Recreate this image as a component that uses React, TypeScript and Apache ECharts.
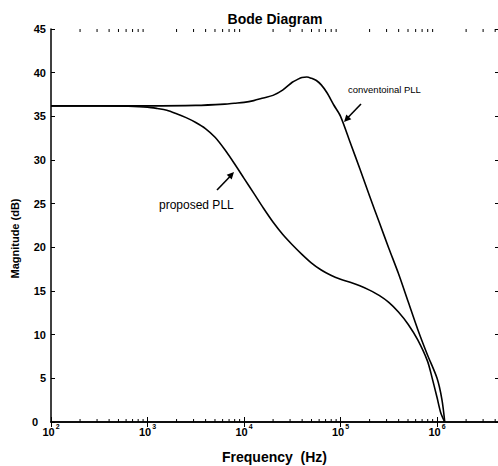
import React, { useEffect, useRef } from "react";
import * as echarts from "echarts";

// ---- data ----
const proposedFreq = [100, 316, 631, 1000, 1260, 1585, 2000, 2510, 3160, 3980, 5010, 6310, 7940, 10000, 12600, 15850, 19950, 25100, 31600, 39800, 50100, 63100, 79400, 100000, 125900, 158500, 199500, 251200, 316200, 398100, 501200, 631000, 794300, 891300, 1000000, 1096000, 1202000];
const proposedMag = [36.2, 36.2, 36.15, 36.05, 35.9, 35.7, 35.3, 34.85, 34.3, 33.6, 32.6, 31.2, 29.6, 27.9, 26.2, 24.5, 22.9, 21.5, 20.3, 19.2, 18.2, 17.4, 16.8, 16.35, 16.0, 15.6, 15.1, 14.5, 13.7, 12.6, 11.2, 9.4, 7.0, 5.0, 2.8, 1.0, 0];

const conventionalFreq = [100, 1000, 3160, 6310, 7940, 10000, 12600, 15850, 19950, 25100, 31600, 35500, 39800, 44700, 50100, 56200, 63100, 72400, 85100, 100000, 125900, 158500, 199500, 251200, 316200, 398100, 501200, 631000, 794300, 1000000, 1122000, 1202000];
const conventionalMag = [36.2, 36.2, 36.25, 36.4, 36.5, 36.6, 36.8, 37.1, 37.4, 38.0, 38.9, 39.2, 39.45, 39.5, 39.35, 39.1, 38.6, 37.7, 36.3, 35.0, 32.0, 29.0, 25.9, 22.9, 19.9, 17.0, 13.8, 10.6, 7.7, 5.0, 2.6, 0];

const xMin = 100;
const xMax = 4280000;
const yMin = 0;
const yMax = 45;
const yStep = 5;
const decadeExponents = [2, 3, 4, 5, 6];
const minorMultipliers = [2, 3, 4, 5, 6, 7, 8, 9];

const FONT = "'Liberation Sans', Arial, Helvetica, sans-serif";

export default function App() {
  const ref = useRef<HTMLDivElement>(null);

  useEffect(() => {
    if (!ref.current) return;
    const chart = echarts.init(ref.current, undefined, { renderer: "svg" });

    const minorTicks: number[][] = [];
    decadeExponents.forEach((e) => {
      minorMultipliers.forEach((m) => {
        const f = m * Math.pow(10, e);
        if (f < xMax) minorTicks.push([f]);
      });
    });

    const toPairs = (xs: number[], ys: number[]) => xs.map((x, i) => [x, ys[i]]);

    const xLabel = {
      formatter: (v: number) => {
        const e = Math.round(Math.log10(v));
        return `{b|10}{s|${e}}`;
      },
      showMaxLabel: false,
      margin: 2.5,
      color: "#000",
      rich: {
        b: { fontSize: 11, fontWeight: "bold", fontFamily: FONT, color: "#000", lineHeight: 13, verticalAlign: "bottom" },
        s: { fontSize: 7, fontWeight: "bold", fontFamily: FONT, color: "#000", lineHeight: 8, verticalAlign: "bottom", padding: [0, 0, 8, 1] },
      },
    };

    const axisLine = { show: true, lineStyle: { color: "#000", width: 1.5 } };
    const tickText = { fontSize: 11, fontWeight: "bold", fontFamily: FONT, color: "#000" };

    chart.setOption({
      animation: false,
      backgroundColor: "#fff",
      title: {
        text: "Bode Diagram",
        left: 270,
        top: 7,
        textAlign: "center",
        textStyle: { fontSize: 14, fontWeight: "bold", fontFamily: FONT, color: "#000" },
      },
      grid: { left: 51, top: 29, right: 0, bottom: 44, containLabel: false, outerBoundsMode: "none" },
      xAxis: [
        {
          type: "log",
          logBase: 10,
          min: xMin,
          max: xMax,
          position: "bottom",
          axisLine,
          axisTick: { show: true, inside: true, length: 5, lineStyle: { color: "#000", width: 1 } },
          axisLabel: xLabel,
          splitLine: { show: false },
          name: "Frequency  (Hz)",
          nameLocation: "middle",
          nameGap: 28,
          nameTextStyle: { fontSize: 14, fontWeight: "bold", fontFamily: FONT, color: "#000" },
        },
        {
          type: "log",
          logBase: 10,
          min: xMin,
          max: xMax,
          position: "top",
          axisLine,
          axisTick: { show: true, inside: true, length: 5, lineStyle: { color: "#000", width: 1 } },
          axisLabel: { show: false },
          splitLine: { show: false },
        },
      ],
      yAxis: [
        {
          type: "value",
          min: yMin,
          max: yMax,
          interval: yStep,
          position: "left",
          axisLine,
          axisTick: { show: true, inside: true, length: 4, lineStyle: { color: "#000", width: 1 } },
          axisLabel: {
            margin: 5,
            ...tickText,
            formatter: (v: number) => (v === 0 ? "{z|0}" : `${v}`),
            rich: { z: { ...tickText, padding: [0, 8, 0, 0] } },
          },
          splitLine: { show: false },
          name: "Magnitude (dB)",
          nameLocation: "middle",
          nameGap: 27,
          nameRotate: 90,
          nameTextStyle: { fontSize: 11, fontWeight: "bold", fontFamily: FONT, color: "#000", padding: [0, 26, 0, 0] },
        },
        {
          type: "value",
          min: yMin,
          max: yMax,
          interval: yStep,
          position: "right",
          axisLine: { show: false },
          axisTick: { show: true, inside: true, length: 3, lineStyle: { color: "#000", width: 1 } },
          axisLabel: { show: false },
          splitLine: { show: false },
        },
      ],
      series: [
        {
          name: "proposed PLL",
          type: "line",
          data: toPairs(proposedFreq, proposedMag),
          showSymbol: false,
          smooth: 0.3,
          lineStyle: { color: "#000", width: 1.6 },
          xAxisIndex: 0,
          yAxisIndex: 0,
        },
        {
          name: "conventoinal PLL",
          type: "line",
          data: toPairs(conventionalFreq, conventionalMag),
          showSymbol: false,
          smooth: 0.3,
          lineStyle: { color: "#000", width: 1.6 },
          xAxisIndex: 0,
          yAxisIndex: 0,
        },
        {
          type: "custom",
          xAxisIndex: 0,
          yAxisIndex: 0,
          silent: true,
          clip: false,
          data: minorTicks,
          renderItem: (params: any, api: any) => {
            const f = api.value(0);
            const b = api.coord([f, yMin]);
            const t = api.coord([f, yMax]);
            return {
              type: "group",
              children: [
                { type: "line", shape: { x1: b[0], y1: b[1], x2: b[0], y2: b[1] - 3 }, style: { stroke: "#000", lineWidth: 1 } },
                { type: "line", shape: { x1: t[0], y1: t[1], x2: t[0], y2: t[1] + 3 }, style: { stroke: "#000", lineWidth: 1 } },
              ],
            };
          },
        },
      ],
      graphic: [
        { type: "text", left: 348, top: 84, style: { text: "conventoinal PLL", fontSize: 9.5, fontFamily: FONT, fill: "#000" } },
        { type: "line", shape: { x1: 361, y1: 104, x2: 348, y2: 117.5 }, style: { stroke: "#000", lineWidth: 1.6 } },
        { type: "polygon", shape: { points: [[344, 122], [351.3, 119.3], [346.3, 114.5]] }, style: { fill: "#000" } },
        { type: "text", left: 159, top: 199, style: { text: "proposed PLL", fontSize: 12, fontFamily: FONT, fill: "#000" } },
        { type: "line", shape: { x1: 217, y1: 190, x2: 230, y2: 176.5 }, style: { stroke: "#000", lineWidth: 1.6 } },
        { type: "polygon", shape: { points: [[234, 172], [231.7, 179.5], [226.7, 174.7]] }, style: { fill: "#000" } },
      ],
    });

    return () => chart.dispose();
  }, []);

  return <div ref={ref} style={{ position: "fixed", left: 0, top: 0, width: 498, height: 466 }} />;
}
